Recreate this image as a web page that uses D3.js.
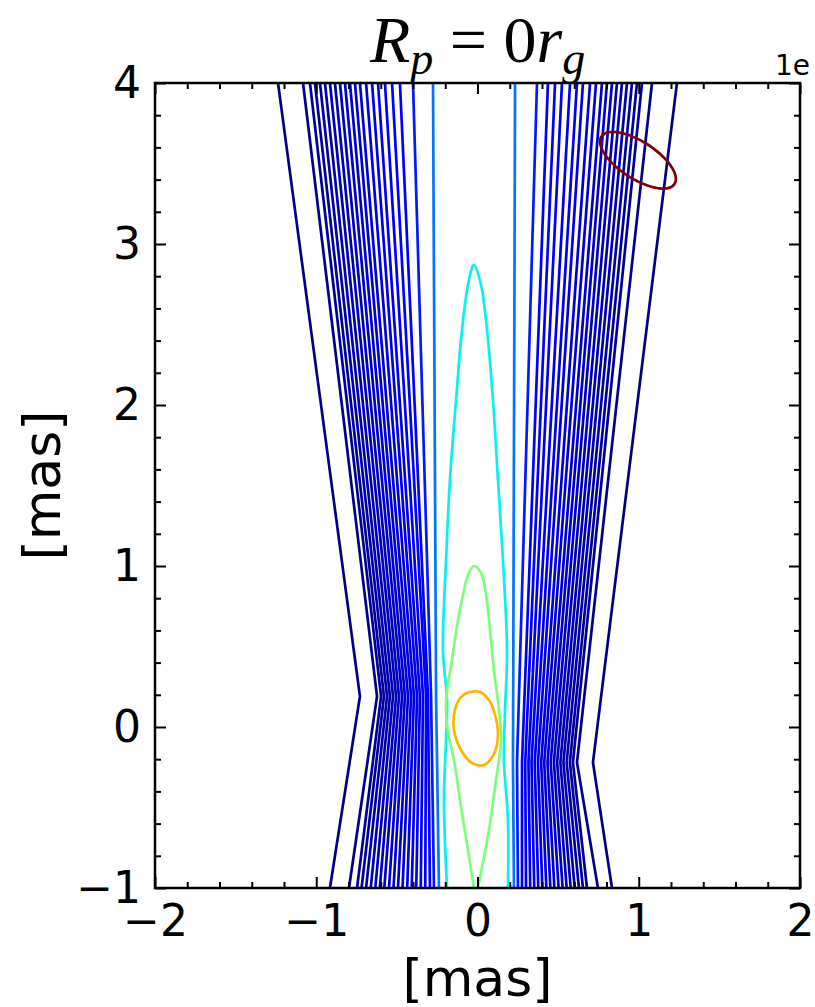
<!DOCTYPE html>
<html>
<head>
<meta charset="UTF-8" />
<title>Contour</title>
<style>
  body { margin: 0; background: #fff; }
  svg { display: block; background: #fff; }
  .axis text { font-family: "DejaVu Sans", sans-serif; font-size: 44px; fill: #000; }
  .axis line { stroke: #000; stroke-width: 2; }
  .axis .domain { display: none; }
  .contour { fill: none; stroke-width: 2.7; stroke-linejoin: round; }
</style>
<script src="https://cdn.jsdelivr.net/npm/d3@7"></script>
</head>
<body>
<div id="chart"></div>
<script>
// tick labels
let xMajor = [-2, -1, 0, 1, 2];
let yMajor = [-1, 0, 1, 2, 3, 4];

// normalised contour levels of the 21 contours on each side of the jet, outermost first
let sideLevels = [0, 0.008, 0.02, 0.026, 0.032, 0.038, 0.044, 0.05, 0.056, 0.062, 0.068,
                  0.074, 0.08, 0.086, 0.092, 0.098, 0.104, 0.11, 0.118, 0.15, 0.24];

// x [mas] where each side contour crosses y = 4, the narrowest point, and y = -1
let leftTop = [-1.237, -1.082, -1.039, -1.008, -0.977, -0.946, -0.915, -0.884, -0.853, -0.822, -0.791,
               -0.760, -0.729, -0.691, -0.654, -0.617, -0.574, -0.530, -0.481, -0.400, -0.276];
let leftKink = [-0.729, -0.623, -0.598, -0.580, -0.561, -0.543, -0.524, -0.505, -0.487, -0.468, -0.450,
                -0.431, -0.412, -0.394, -0.375, -0.357, -0.338, -0.319, -0.307, -0.288, -0.257];
let leftBottom = [-0.915, -0.797, -0.747, -0.719, -0.691, -0.662, -0.634, -0.606, -0.578, -0.549, -0.521,
                  -0.493, -0.465, -0.436, -0.408, -0.380, -0.352, -0.324, -0.295, -0.270, -0.239];
let rightTop = [1.237, 1.082, 1.020, 0.989, 0.958, 0.927, 0.896, 0.865, 0.834, 0.803, 0.772,
                0.735, 0.698, 0.654, 0.617, 0.574, 0.524, 0.481, 0.437, 0.369, 0.233];
let rightKink = [0.716, 0.617, 0.592, 0.573, 0.553, 0.533, 0.514, 0.494, 0.474, 0.454, 0.434,
                 0.414, 0.395, 0.375, 0.355, 0.335, 0.316, 0.296, 0.276, 0.245, 0.220];
let rightBottom = [0.834, 0.747, 0.679, 0.654, 0.629, 0.603, 0.578, 0.553, 0.528, 0.503, 0.477,
                   0.452, 0.427, 0.402, 0.377, 0.352, 0.327, 0.301, 0.276, 0.251, 0.226];
let kinkY = { left: 0.19, right: -0.22 };

// inner contours, [x, y] in mas
let cyanLevel = 0.36;
let cyanPath = [[-0.189, -1.0], [-0.208, -0.453], [-0.195, -0.081], [-0.189, 0.168], [-0.214, 0.478],
                [-0.195, 1.037], [-0.171, 1.534], [-0.133, 2.031], [-0.096, 2.466], [-0.059, 2.745],
                [-0.022, 2.870], [0.022, 2.745], [0.059, 2.466], [0.096, 2.031], [0.127, 1.534],
                [0.158, 1.037], [0.183, 0.478], [0.171, 0.106], [0.164, -0.205], [0.189, -0.578], [0.189, -1.0]];
let greenLevel = 0.5;
let greenPath = [[-0.022, -1.0], [-0.059, -0.764], [-0.109, -0.453], [-0.140, -0.236], [-0.189, 0.012],
                 [-0.195, 0.168], [-0.158, 0.416], [-0.121, 0.665], [-0.090, 0.820], [-0.059, 0.944],
                 [-0.022, 1.0], [0.022, 0.957], [0.053, 0.820], [0.078, 0.602], [0.102, 0.354],
                 [0.133, 0.106], [0.146, -0.081], [0.115, -0.329], [0.071, -0.640], [0.003, -1.0]];
let orangeLevel = 0.72;
let orangeLoop = [[-0.047, 0.217], [0.016, 0.217], [0.071, 0.168], [0.109, 0.075], [0.127, -0.050],
                  [0.102, -0.168], [0.040, -0.236], [-0.034, -0.224], [-0.102, -0.143], [-0.146, -0.019],
                  [-0.140, 0.106], [-0.102, 0.186]];

// restoring beam: centre x, centre y, semi-major, semi-minor [mas], tilt [deg]
let beamLevel = 1.0;
let beam = [0.995, 3.52, 0.27, 0.115, -33];

let width = 815, height = 1007;
let margin = { top: 83, right: 15, bottom: 119, left: 155 };

let svg = d3.select("#chart").append("svg")
    .attr("width", width)
    .attr("height", height);

let x = d3.scaleLinear().domain([-2, 2]).range([margin.left, width - margin.right]);
let y = d3.scaleLinear().domain([-1, 4]).range([height - margin.bottom, margin.top]);

// matplotlib "jet"
let jetR = d3.scaleLinear().domain([0, 0.35, 0.66, 0.89, 1]).range([0, 0, 1, 1, 0.5]).clamp(true);
let jetG = d3.scaleLinear().domain([0, 0.125, 0.375, 0.64, 0.91, 1]).range([0, 0, 1, 1, 0, 0]).clamp(true);
let jetB = d3.scaleLinear().domain([0, 0.11, 0.34, 0.65, 1]).range([0.5, 1, 1, 0, 0]).clamp(true);
let jet = t => d3.rgb(jetR(t) * 255, jetG(t) * 255, jetB(t) * 255).formatHex();

svg.append("clipPath").attr("id", "plot-clip")
    .append("rect")
    .attr("x", x(-2)).attr("y", y(4))
    .attr("width", x(2) - x(-2)).attr("height", y(-1) - y(4));

let plot = svg.append("g").attr("clip-path", "url(#plot-clip)");
let line = d3.line().x(d => x(d[0])).y(d => y(d[1]));

// side contours
let sides = [];
sideLevels.forEach((lv, i) => {
    sides.push({ level: lv, pts: [[leftTop[i], 4], [leftKink[i], kinkY.left], [leftBottom[i], -1]] });
    sides.push({ level: lv, pts: [[rightTop[i], 4], [rightKink[i], kinkY.right], [rightBottom[i], -1]] });
});

plot.append("g")
    .selectAll("path")
    .data(sides)
    .enter()
    .append("path")
    .attr("class", "contour")
    .attr("stroke", d => jet(d.level))
    .attr("d", d => line(d.pts));

let smooth = d3.line().x(d => x(d[0])).y(d => y(d[1])).curve(d3.curveCatmullRom.alpha(0.5));
let smoothClosed = d3.line().x(d => x(d[0])).y(d => y(d[1])).curve(d3.curveCatmullRomClosed.alpha(0.5));

plot.append("path").attr("class", "contour").attr("stroke", jet(cyanLevel)).attr("d", smooth(cyanPath));
plot.append("path").attr("class", "contour").attr("stroke", jet(greenLevel)).attr("d", smooth(greenPath));
plot.append("path").attr("class", "contour").attr("stroke", jet(orangeLevel)).attr("d", smoothClosed(orangeLoop));

// beam ellipse
let [bx, by, ba, bb, bang] = beam;
let rad = bang * Math.PI / 180;
let beamPts = d3.range(0, 360, 5).map(a => {
    let t = a * Math.PI / 180;
    let ex = ba * Math.cos(t), ey = bb * Math.sin(t);
    return [bx + ex * Math.cos(rad) - ey * Math.sin(rad), by + ex * Math.sin(rad) + ey * Math.cos(rad)];
});
plot.append("path").attr("class", "contour").attr("stroke", jet(beamLevel)).attr("stroke-width", 3)
    .attr("d", smoothClosed(beamPts));

// axes, ticks inward on all sides
let xMinor = d3.range(-20, 21, 2).map(v => v / 10).filter(v => !xMajor.includes(v));
let yMinor = d3.range(-10, 41, 2).map(v => v / 10).filter(v => !yMajor.includes(v));

svg.append("g").attr("class", "axis")
    .attr("transform", `translate(0,${y(-1)})`)
    .call(d3.axisBottom(x).tickValues(xMajor).tickSize(-11).tickPadding(17).tickFormat(d3.format("d")));
svg.append("g").attr("class", "axis")
    .attr("transform", `translate(0,${y(-1)})`)
    .call(d3.axisBottom(x).tickValues(xMinor).tickSize(-6).tickFormat(""));
svg.append("g").attr("class", "axis")
    .attr("transform", `translate(0,${y(4)})`)
    .call(d3.axisTop(x).tickValues(xMajor).tickSize(-11).tickFormat(""));
svg.append("g").attr("class", "axis")
    .attr("transform", `translate(0,${y(4)})`)
    .call(d3.axisTop(x).tickValues(xMinor).tickSize(-6).tickFormat(""));

svg.append("g").attr("class", "axis")
    .attr("transform", `translate(${x(-2)},0)`)
    .call(d3.axisLeft(y).tickValues(yMajor).tickSize(-11).tickPadding(14).tickFormat(d3.format("d")));
svg.append("g").attr("class", "axis")
    .attr("transform", `translate(${x(-2)},0)`)
    .call(d3.axisLeft(y).tickValues(yMinor).tickSize(-6).tickFormat(""));
svg.append("g").attr("class", "axis")
    .attr("transform", `translate(${x(2)},0)`)
    .call(d3.axisRight(y).tickValues(yMajor).tickSize(-11).tickFormat(""));
svg.append("g").attr("class", "axis")
    .attr("transform", `translate(${x(2)},0)`)
    .call(d3.axisRight(y).tickValues(yMinor).tickSize(-6).tickFormat(""));

// frame
svg.append("rect")
    .attr("x", x(-2)).attr("y", y(4))
    .attr("width", x(2) - x(-2)).attr("height", y(-1) - y(4))
    .attr("fill", "none").attr("stroke", "#000").attr("stroke-width", 2.5);

// labels
svg.append("text")
    .attr("x", (x(-2) + x(2)) / 2).attr("y", 996)
    .attr("text-anchor", "middle")
    .style("font-family", "DejaVu Sans, sans-serif").style("font-size", "52px")
    .text("[mas]");

svg.append("text")
    .attr("transform", `translate(60,${(y(-1) + y(4)) / 2}) rotate(-90)`)
    .attr("text-anchor", "middle")
    .style("font-family", "DejaVu Sans, sans-serif").style("font-size", "52px")
    .text("[mas]");

svg.append("text")
    .attr("x", 810).attr("y", 75)
    .attr("text-anchor", "end")
    .style("font-family", "DejaVu Sans, sans-serif").style("font-size", "28px")
    .text("1e");

// title  R_p = 0 r_g
let title = svg.append("text")
    .attr("x", (x(-2) + x(2)) / 2).attr("y", 62)
    .attr("text-anchor", "middle")
    .style("font-family", "Liberation Serif, DejaVu Serif, serif").style("font-size", "66px");
title.append("tspan").style("font-style", "italic").text("R");
title.append("tspan").style("font-style", "italic").style("font-size", "46px").attr("dy", 12).text("p");
title.append("tspan").attr("dy", -12).text(" = 0");
title.append("tspan").style("font-style", "italic").text("r");
title.append("tspan").style("font-style", "italic").style("font-size", "46px").attr("dy", 12).text("g");
</script>
</body>
</html>
